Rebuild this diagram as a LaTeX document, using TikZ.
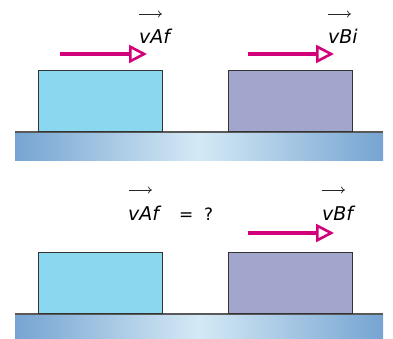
\documentclass[tikz,border=0pt]{standalone}
\usepackage{fontspec}
\setmainfont{DejaVu Sans}
\usetikzlibrary{arrows.meta}
\definecolor{blockA}{RGB}{138,215,240}
\definecolor{blockB}{RGB}{163,166,204}
\definecolor{slabdark}{RGB}{118,164,210}
\definecolor{slablight}{RGB}{212,233,245}
\definecolor{velmag}{RGB}{210,0,122}
\tikzset{
  blockbox/.style={draw=black!80, line width=0.8pt, minimum width=124pt, minimum height=61pt, anchor=south west, inner sep=0pt},
  velarrow/.style={draw=velmag, line width=4pt, -{Triangle[open, length=18pt, width=18pt, line width=2.6pt]}},
  vlabel/.style={anchor=base west, inner sep=0pt, font=\fontsize{19}{22}\selectfont\itshape},
  plainlabel/.style={anchor=base west, inner sep=0pt, font=\fontsize{17}{20}\selectfont},
  vecbar/.style={draw=black!85, line width=0.7pt, -{To[length=4pt,width=7pt]}},
  slabline/.style={draw=black!65, line width=1.3pt}
}
\begin{document}
\begin{tikzpicture}[x=1pt,y=-1pt]
\useasboundingbox (0,0) rectangle (393,338);
% top scene
\shade[left color=slabdark, right color=slabdark, middle color=slablight] (15,132) rectangle (383,160);
\coordinate (s1l) at (15,132); \coordinate (s1r) at (383,132);
\draw[slabline] (s1l) -- (s1r);
\node[blockbox, fill=blockA] (A1) at (38,132) {};
\node[blockbox, fill=blockB] (B1) at (228,132) {};
\coordinate (a1s) at (60,54); \coordinate (a1e) at (147,54);
\coordinate (b1s) at (248,54); \coordinate (b1e) at (334,54);
\draw[velarrow] (a1s) -- (a1e);
\draw[velarrow] (b1s) -- (b1e);
\node[vlabel] (lAf) at (139,43) {vAf};
\node[vlabel] (lBi) at (328,43) {vBi};
\draw[vecbar] (139,14) -- (162,14);
\draw[vecbar] (328,14) -- (351,14);
% bottom scene
\shade[left color=slabdark, right color=slabdark, middle color=slablight] (15,314) rectangle (383,338);
\coordinate (s2l) at (15,314); \coordinate (s2r) at (383,314);
\draw[slabline] (s2l) -- (s2r);
\node[blockbox, fill=blockA] (A2) at (38,314) {};
\node[blockbox, fill=blockB] (B2) at (228,314) {};
\coordinate (b2s) at (248,233); \coordinate (b2e) at (334,233);
\draw[velarrow] (b2s) -- (b2e);
\node[vlabel] (lAf2) at (128,220) {vAf};
\node[plainlabel] (eq) at (179,220) {=};
\node[plainlabel] (qm) at (204,220) {?};
\node[vlabel] (lBf) at (322,220) {vBf};
\draw[vecbar] (129,190) -- (152,190);
\draw[vecbar] (322,190) -- (345,190);
\end{tikzpicture}
\end{document}
